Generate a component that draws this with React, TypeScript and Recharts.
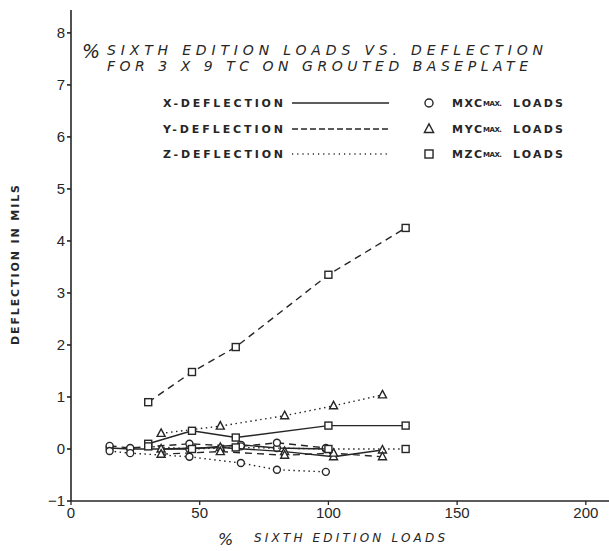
import { ScatterChart, Scatter, XAxis, YAxis } from 'recharts';

// % loads for each load case
const MXC_LOADS = [15, 23, 46, 66, 80, 99];
const MYC_LOADS = [35, 58, 83, 102, 121];
const MZC_LOADS = [30, 47, 64, 100, 130];

// deflection (mils) per load case and direction
const MXC_X_DEFL = [0.02, 0.0, 0.0, 0.08, 0.02, 0.0];
const MXC_Y_DEFL = [0.06, 0.02, 0.1, 0.05, 0.12, 0.02];
const MXC_Z_DEFL = [-0.04, -0.08, -0.15, -0.27, -0.4, -0.44];

const MYC_X_DEFL = [0.0, 0.03, -0.05, -0.15, -0.02];
const MYC_Y_DEFL = [-0.1, -0.05, -0.12, -0.08, -0.15];
const MYC_Z_DEFL = [0.3, 0.44, 0.64, 0.83, 1.04];

const MZC_X_DEFL = [0.1, 0.35, 0.22, 0.45, 0.45];
const MZC_Y_DEFL = [0.9, 1.48, 1.96, 3.35, 4.25];
const MZC_Z_DEFL = [0.05, 0.0, 0.03, 0.0, 0.0];

const X_TICKS = [0, 50, 100, 150, 200];
const Y_TICKS = [-1, 0, 1, 2, 3, 4, 5, 6, 7, 8];

const INK = '#262626';
const DASH: Record<string, string | undefined> = { solid: undefined, dashed: '7 5', dotted: '1.5 3.5' };

type Marker = 'circle' | 'triangle' | 'square';

const toPoints = (xs: number[], ys: number[]) => xs.map((x, i) => ({ x, y: ys[i] }));

const series: { key: string; data: { x: number; y: number }[]; line: string; marker: Marker }[] = [
  { key: 'mxc-x', data: toPoints(MXC_LOADS, MXC_X_DEFL), line: 'solid', marker: 'circle' },
  { key: 'mxc-y', data: toPoints(MXC_LOADS, MXC_Y_DEFL), line: 'dashed', marker: 'circle' },
  { key: 'mxc-z', data: toPoints(MXC_LOADS, MXC_Z_DEFL), line: 'dotted', marker: 'circle' },
  { key: 'myc-x', data: toPoints(MYC_LOADS, MYC_X_DEFL), line: 'solid', marker: 'triangle' },
  { key: 'myc-y', data: toPoints(MYC_LOADS, MYC_Y_DEFL), line: 'dashed', marker: 'triangle' },
  { key: 'myc-z', data: toPoints(MYC_LOADS, MYC_Z_DEFL), line: 'dotted', marker: 'triangle' },
  { key: 'mzc-x', data: toPoints(MZC_LOADS, MZC_X_DEFL), line: 'solid', marker: 'square' },
  { key: 'mzc-y', data: toPoints(MZC_LOADS, MZC_Y_DEFL), line: 'dashed', marker: 'square' },
  { key: 'mzc-z', data: toPoints(MZC_LOADS, MZC_Z_DEFL), line: 'dotted', marker: 'square' },
];

function MarkerGlyph({ kind, cx, cy, s = 1 }: { kind: Marker; cx: number; cy: number; s?: number }) {
  const common = { fill: '#fff', stroke: INK, strokeWidth: 1.4 };
  if (kind === 'circle') return <circle cx={cx} cy={cy} r={3.5 * s} {...common} />;
  if (kind === 'square') return <rect x={cx - 3.5 * s} y={cy - 3.5 * s} width={7 * s} height={7 * s} {...common} />;
  return <polygon points={`${cx},${cy - 4.5 * s} ${cx + 4 * s},${cy + 3 * s} ${cx - 4 * s},${cy + 3 * s}`} {...common} />;
}

const makeShape = (kind: Marker) => (props: any) => {
  if (props.cx == null || props.cy == null) return <g />;
  return <MarkerGlyph kind={kind} cx={props.cx} cy={props.cy} />;
};

const fmtY = (v: number) => (v < 0 ? `\u2212${Math.abs(v)}` : `${v}`);

const legendRows = [
  { label: 'X-DEFLECTION', line: 'solid', marker: 'circle' as Marker, load: 'MXC', y: 107 },
  { label: 'Y-DEFLECTION', line: 'dashed', marker: 'triangle' as Marker, load: 'MYC', y: 133 },
  { label: 'Z-DEFLECTION', line: 'dotted', marker: 'square' as Marker, load: 'MZC', y: 158 },
];

const lettering = { fontFamily: 'DejaVu Sans', fill: INK };

export default function App() {
  return (
    <div style={{ position: 'absolute', left: 0, top: 0, width: 609, height: 551, background: '#fff' }}>
      <ScatterChart width={609} height={551} margin={{ top: 10, right: 0, bottom: 0, left: 0 }}>
        <XAxis
          type="number"
          dataKey="x"
          domain={[0, 209]}
          ticks={X_TICKS}
          height={50}
          tickSize={4}
          stroke={INK}
          strokeWidth={1.3}
          tick={{ fill: INK, fontSize: 15, fontFamily: 'Liberation Sans' }}
        />
        <YAxis
          type="number"
          dataKey="y"
          domain={[-1, 8.44]}
          ticks={Y_TICKS}
          width={71}
          tickSize={4}
          stroke={INK}
          strokeWidth={1.6}
          tickFormatter={fmtY}
          tick={{ fill: INK, fontSize: 15, fontFamily: 'Liberation Sans' }}
        />
        {series.map(s => (
          <Scatter
            key={s.key}
            data={s.data}
            fill={INK}
            line={{ stroke: INK, strokeWidth: 1.4, strokeDasharray: DASH[s.line] }}
            lineType="joint"
            shape={makeShape(s.marker)}
            isAnimationActive={false}
          />
        ))}
      </ScatterChart>

      <svg width={609} height={551} style={{ position: 'absolute', left: 0, top: 0, pointerEvents: 'none' }}>
        {/* title */}
        <text x={82} y={58} fontSize={19} fontStyle="italic" {...lettering}>%</text>
        <text x={107} y={55} fontSize={14} fontStyle="italic" textLength={436} lengthAdjust="spacing" {...lettering}>
          SIXTH EDITION LOADS VS. DEFLECTION
        </text>
        <text x={107} y={71} fontSize={14} fontStyle="italic" textLength={421} lengthAdjust="spacing" {...lettering}>
          FOR 3 X 9 TC ON GROUTED BASEPLATE
        </text>

        {/* legend */}
        {legendRows.map(r => (
          <g key={r.label}>
            <text x={163} y={r.y} fontSize={11} fontWeight="bold" textLength={120} lengthAdjust="spacing" {...lettering}>
              {r.label}
            </text>
            <line x1={292} x2={389} y1={r.y - 4} y2={r.y - 4} stroke={INK} strokeWidth={1.4} strokeDasharray={r.line === 'dashed' ? '6 3' : r.line === 'dotted' ? '1.2 4' : undefined} />
            <MarkerGlyph kind={r.marker} cx={429} cy={r.y - 4} s={1.15} />
            <text x={452} y={r.y} fontSize={11} fontWeight="bold" textLength={30} lengthAdjust="spacing" {...lettering}>{r.load}</text>
            <text x={483} y={r.y - 1} fontSize={7} fontWeight="bold" textLength={19} lengthAdjust="spacing" {...lettering}>MAX.</text>
            <text x={513} y={r.y} fontSize={11} fontWeight="bold" textLength={50} lengthAdjust="spacing" {...lettering}>LOADS</text>
          </g>
        ))}

        {/* axis titles */}
        <text
          transform="translate(19 345) rotate(-90)"
          x={0}
          y={0}
          fontSize={11}
          fontWeight="bold"
          textLength={160}
          lengthAdjust="spacing"
          {...lettering}
        >
          DEFLECTION IN MILS
        </text>
        <text x={218} y={545} fontSize={16} fontStyle="italic" {...lettering}>%</text>
        <text x={254} y={542} fontSize={12} fontStyle="italic" textLength={191} lengthAdjust="spacing" {...lettering}>
          SIXTH EDITION LOADS
        </text>
      </svg>
    </div>
  );
}
